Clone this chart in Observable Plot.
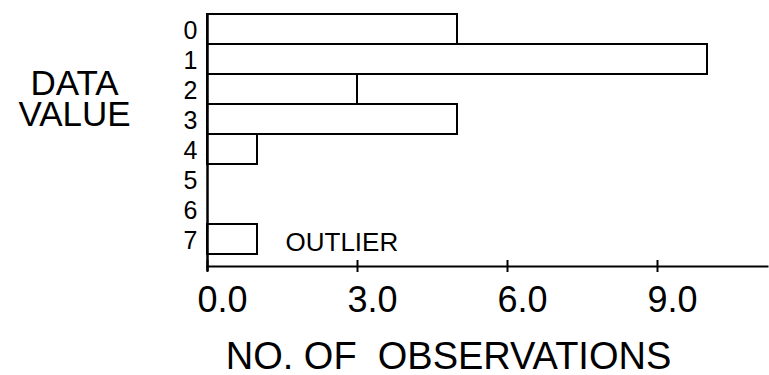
<!DOCTYPE html>
<html>
<head>
<meta charset="utf-8">
<script src="https://cdn.jsdelivr.net/npm/d3@7"></script>
<script src="https://cdn.jsdelivr.net/npm/@observablehq/plot@0.6"></script>
<style>
  html, body { margin: 0; padding: 0; background: #fff; }
</style>
</head>
<body>
<div id="chart"></div>
<script>
// Data
const dataValues = ["0", "1", "2", "3", "4", "5", "6", "7"];
const observations = [5, 10, 3, 5, 1, 0, 0, 1];
const xTicks = [0, 3, 6, 9];
const yTitle = "DATA\nVALUE";
const xTitle = "NO. OF\u00a0 OBSERVATIONS";
const outlierValue = "7";
const outlierLabel = "OUTLIER";

const rows = dataValues.map((v, i) => ({value: v, count: observations[i]}));

const chart = Plot.plot({
  width: 769,
  height: 375,
  marginLeft: 207,
  marginRight: 2,
  marginTop: 14,
  marginBottom: 109,
  style: {fontFamily: "'Liberation Sans', Arial, Helvetica, sans-serif", color: "black", background: "white"},
  x: {domain: [0, 11.2], label: null},
  y: {domain: dataValues, range: [14, 254], padding: 0, label: null, axis: null},
  marks: [
    Plot.barX(rows.filter(d => d.count > 0), {
      y: "value", x: "count", fill: "white", stroke: "black", strokeWidth: 2
    }),
    Plot.ruleX([0], {stroke: "black", strokeWidth: 2.5, insetBottom: -5}),
    Plot.frame({anchor: "bottom", stroke: "black", strokeWidth: 2}),
    Plot.ruleX(xTicks, {x: d => d, stroke: "black", strokeWidth: 2, insetTop: 246, insetBottom: -6}),
    Plot.axisX(xTicks, {
      tickSize: 0, tickPadding: 20, fontSize: 36, dx: 15, label: null,
      tickFormat: d => d.toFixed(1), fill: "black"
    }),
    // y tick labels (data values)
    Plot.text(dataValues, {
      y: d => d, text: d => d, frameAnchor: "left", textAnchor: "end",
      dx: -10, dy: 1, fontSize: 25, fill: "black"
    }),
    Plot.text([yTitle], {
      frameAnchor: "top-left", dx: -133, dy: 86, fontSize: 35, lineHeight: 0.886,
      textAnchor: "middle", lineAnchor: "middle", fill: "black"
    }),
    Plot.text([xTitle], {
      frameAnchor: "bottom-left", dx: 241, dy: 90, fontSize: 38,
      textAnchor: "middle", lineAnchor: "middle", fill: "black"
    }),
    Plot.text(rows.filter(d => d.value === outlierValue), {
      x: "count", y: "value", text: () => outlierLabel,
      textAnchor: "start", dx: 28, dy: 3, fontSize: 26, fill: "black"
    })
  ]
});
document.getElementById("chart").appendChild(chart);
</script>
</body>
</html>
